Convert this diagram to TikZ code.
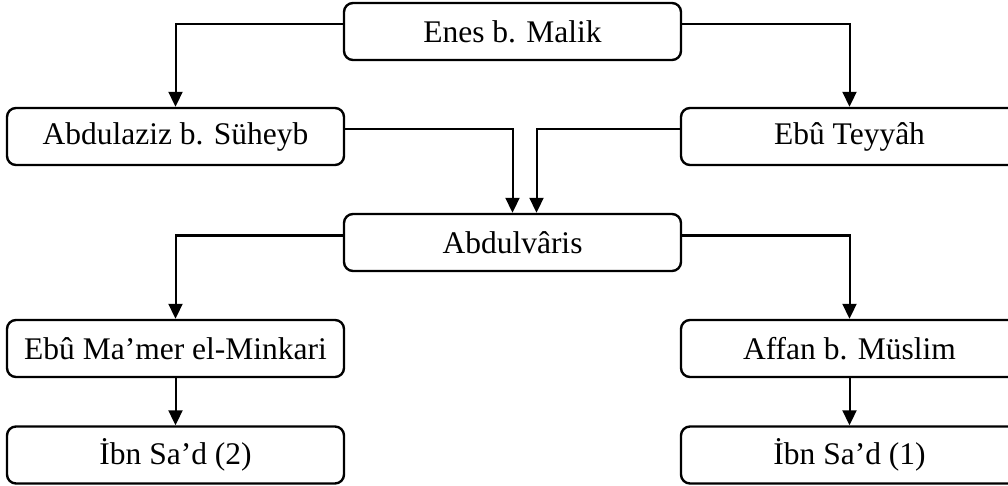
\documentclass[tikz,border=0pt]{standalone}
\usepackage{fontspec}
\setmainfont{Liberation Serif}
\usetikzlibrary{arrows.meta}
\begin{document}
\begin{tikzpicture}[x=1pt,y=-1pt,
  person/.style={draw, line width=2.4pt, rounded corners=9pt,
    minimum width=337pt, minimum height=57pt, inner sep=0pt,
    font=\fontsize{31.5}{36}\selectfont},
  link/.style={line width=2pt, -{Triangle[length=15pt,width=14pt]}}]
  \useasboundingbox (0,0) rectangle (1008,486);
  \fill[white] (0,0) rectangle (1008,486);
  \clip (0,0) rectangle (1008,486);

  % columns at 175.5 / 512.5 / 849.5
  \node[person] (enes)    at (512.5,31.5)  {Enes b. Malik};
  \node[person] (suheyb)  at (175.5,136.5) {Abdulaziz b. Süheyb};
  \node[person] (teyyah)  at (849.5,136.5) {Ebû Teyyâh};
  \node[person] (varis)   at (512.5,242.5) {Abdulvâris};
  \node[person] (minkari) at (175.5,348.5) {Ebû Ma’mer el-Minkari};
  \node[person] (affan)   at (849.5,348.5) {Affan b. Müslim};
  \node[person] (sad2)    at (175.5,455)   {İbn Sa’d (2)};
  \node[person] (sad1)    at (849.5,455)   {İbn Sa’d (1)};

  \draw[link] ([yshift=7pt]enes.west) -| (suheyb.north);
  \draw[link] ([yshift=7pt]enes.east) -| (teyyah.north);
  \draw[link] ([yshift=7pt]suheyb.east) -| (varis.north);
  \draw[link] ([yshift=7pt]teyyah.west) -| ([xshift=24pt]varis.north);
  \draw[link] ([yshift=7pt]varis.west) -| (minkari.north);
  \draw[link] ([yshift=7pt]varis.east) -| (affan.north);
  \draw[link] (minkari.south) -- (sad2.north);
  \draw[link] (affan.south) -- (sad1.north);
\end{tikzpicture}
\end{document}
